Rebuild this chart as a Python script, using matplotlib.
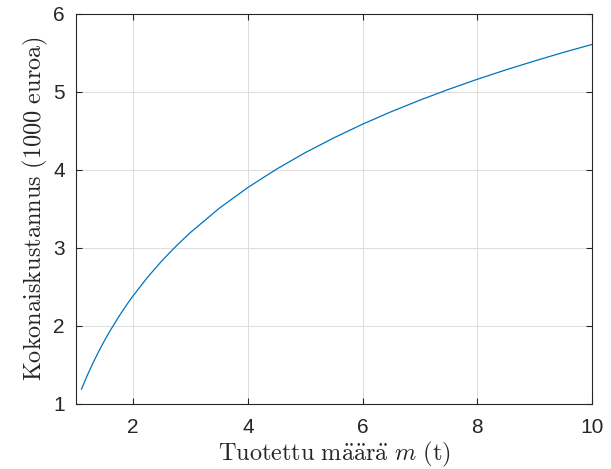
import numpy as np
import matplotlib
matplotlib.use("Agg")
import matplotlib.pyplot as plt

# Total cost (thousand euro) against produced amount m (tonnes)
m_tonnes = [1.1, 1.2, 1.3, 1.4, 1.5, 1.6, 1.75, 1.9, 2.0, 2.25, 2.5, 2.75, 3.0,
            3.5, 4.0, 4.5, 5.0, 5.5, 6.0, 6.5, 7.0, 7.5, 8.0, 8.5, 9.0, 9.5, 10.0]
cost_keur = [1.19, 1.365, 1.525, 1.673, 1.811, 1.940, 2.119, 2.284, 2.386, 2.622,
             2.833, 3.023, 3.197, 3.506, 3.773, 4.008, 4.219, 4.409, 4.584, 4.744,
             4.892, 5.030, 5.159, 5.280, 5.394, 5.503, 5.605]

x_ticks = [2, 4, 6, 8, 10]
y_ticks = [1, 2, 3, 4, 5, 6]

plt.rcParams["mathtext.fontset"] = "cm"
plt.rcParams["font.family"] = ["Liberation Sans", "DejaVu Sans"]

fig = plt.figure(figsize=(6.11, 4.69), dpi=100)
ax = fig.add_axes([0.124, 0.1386, 0.845, 0.8324])

ax.plot(m_tonnes, cost_keur, color="#0072BD", lw=0.9)

ax.set_xlim(1, 10)
ax.set_ylim(1, 6)
ax.set_xticks(x_ticks)
ax.set_yticks(y_ticks)
ax.grid(True, color="#dcdcdc", lw=0.7)
ax.set_axisbelow(True)

for s in ax.spines.values():
    s.set_color("#262626")
    s.set_linewidth(0.8)
ax.tick_params(direction="in", length=4.5, width=0.8, colors="#262626",
               labelsize=15, top=True, right=True)
ax.tick_params(axis="x", pad=10)
ax.tick_params(axis="y", pad=8)

ax.set_xlabel(r"$\mathrm{Tuotettu\ m\ddot{a}\ddot{a}r\ddot{a}}\ m\ \mathrm{(t)}$",
              fontsize=17.5, color="#262626", labelpad=2.5)
ax.set_ylabel(r"$\mathrm{Kokonaiskustannus\ (1000\ euroa)}$",
              fontsize=17.5, color="#262626", labelpad=2)

fig.savefig("out.png", dpi=100)
